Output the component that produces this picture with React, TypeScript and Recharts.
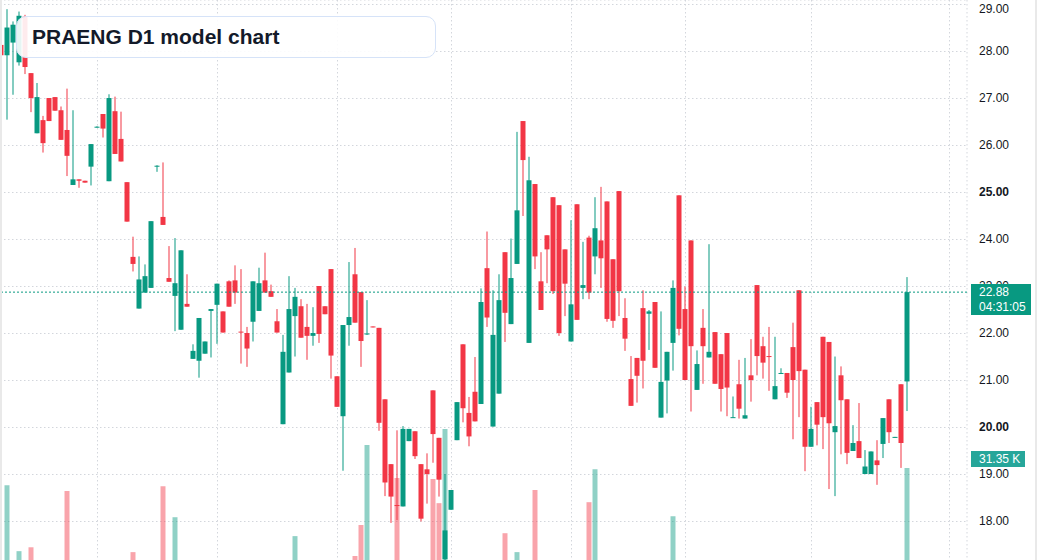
import React from 'react';
import {
  ComposedChart,
  Bar,
  XAxis,
  YAxis,
  CartesianGrid,
  ReferenceLine,
  Cell,
} from 'recharts';

// daily candles, oldest first
const opens = [
  28.14, 27.92, 28.19, 27.77, 28.74, 27.54, 26.26, 26.54, 27.01, 27.03,
  26.75, 26.33, 25.16, 25.28, 25.25, 25.55, 26.39, 26.67, 25.24, 26.73,
  26.14, 25.22, 23.63, 22.53, 22.87, 22.97, 25.56, 24.48, 23.18, 22.8,
  22.08, 22.63, 21.46, 21.42, 21.57, 22.48, 22.61, 22.47, 23.11, 23.13,
  22.04, 22.01, 22.25, 22.48, 23.13, 22.9, 22.26, 20.07, 21.17, 22.37,
  22.58, 22.14, 21.95, 23.01, 22.58, 23.37, 21.09, 20.24, 22.18, 23.26,
  22.88, 21.98, 22.15, 22.12, 20.6, 19.22, 18.35, 18.32, 19.71, 19.92,
  19.22, 19.11, 20.79, 19.78, 17.2, 18.25, 19.73, 21.77, 20.31, 20.76,
  20.5, 23.39, 20.02, 20.72, 23.73, 22.2, 23.48, 26.52, 21.8, 25.18,
  23.11, 24.09, 24.9, 24.73, 23.79, 21.83, 24.75, 22.97, 24.04, 23.64,
  23.98, 24.81, 23.58, 25.03, 22.33, 21.03, 21.48, 22.54, 22.42, 22.67,
  20.21, 21.0, 21.8, 24.94, 22.52, 23.98, 20.8, 22.12, 21.49, 22.03,
  21.56, 22.01, 20.21, 20.92, 20.19, 21.11, 23.03, 21.73, 21.52, 20.6,
  21.14, 21.16, 21.71, 22.92, 21.23, 19.59, 20.54, 21.93, 21.82, 19.9,
  21.11, 20.6, 19.5, 19.71, 19.01, 19.01, 19.3, 19.65, 20.6, 19.78,
  20.92, 20.98,
];
const highs = [
  28.2, 28.9, 28.64, 28.85, 28.78, 27.54, 27.33, 26.63, 27.01, 27.03,
  26.83, 27.21, 26.75, 25.28, 25.25, 26.03, 26.41, 26.67, 27.09, 27.04,
  26.72, 25.22, 24.06, 23.64, 23.47, 24.39, 25.58, 25.64, 23.86, 24.03,
  23.77, 23.26, 21.77, 22.33, 21.83, 22.52, 23.06, 22.47, 23.13, 23.45,
  23.37, 22.14, 23.11, 23.4, 23.72, 23.04, 22.52, 21.97, 23.22, 22.97,
  22.73, 22.63, 22.56, 23.01, 22.58, 23.37, 21.09, 22.18, 23.52, 23.82,
  22.88, 22.71, 22.15, 22.12, 20.6, 19.22, 19.94, 20.03, 19.97, 19.92,
  19.22, 19.45, 20.79, 19.78, 19.01, 18.67, 20.54, 21.77, 20.65, 21.5,
  22.96, 24.17, 22.92, 23.26, 23.73, 24.02, 26.29, 26.52, 25.76, 25.18,
  23.73, 24.09, 24.9, 24.73, 23.79, 24.41, 24.75, 23.95, 24.08, 24.9,
  25.12, 24.81, 23.58, 25.03, 22.75, 21.52, 21.48, 22.92, 22.5, 22.67,
  22.47, 21.61, 23.13, 24.94, 23.0, 23.98, 21.64, 22.52, 23.9, 22.03,
  21.56, 22.01, 20.66, 21.44, 21.48, 21.88, 23.03, 21.93, 22.14, 21.93,
  21.26, 21.16, 22.23, 22.92, 21.23, 20.44, 20.54, 21.93, 21.82, 21.51,
  21.3, 20.6, 20.05, 20.52, 19.52, 19.49, 19.73, 20.2, 20.6, 19.8,
  20.92, 23.2,
];
const lows = [
  27.86, 26.55, 27.08, 27.7, 27.52, 26.71, 26.26, 25.85, 26.52, 26.74,
  26.12, 25.35, 25.16, 25.1, 25.21, 25.15, 26.38, 26.17, 25.24, 25.82,
  25.66, 24.38, 23.32, 22.53, 22.87, 22.97, 25.44, 24.31, 23.1, 22.05,
  22.08, 22.57, 21.46, 21.06, 21.57, 21.49, 21.78, 22.02, 22.57, 22.63,
  21.36, 21.29, 21.83, 22.48, 22.87, 22.78, 22.02, 20.07, 21.17, 21.51,
  21.91, 21.44, 21.74, 21.8, 22.41, 21.04, 20.44, 19.08, 21.74, 22.23,
  21.29, 21.97, 22.13, 19.93, 18.54, 17.97, 18.03, 18.32, 19.71, 19.33,
  18.0, 18.38, 19.25, 18.53, 17.15, 18.25, 19.73, 20.11, 19.6, 20.13,
  20.5, 22.14, 20.02, 20.72, 21.82, 22.2, 23.48, 24.5, 21.8, 23.37,
  22.5, 23.07, 22.84, 21.95, 22.37, 21.83, 22.29, 22.73, 22.73, 23.26,
  22.97, 22.25, 22.12, 22.37, 21.63, 20.46, 20.53, 20.83, 21.65, 21.27,
  20.21, 20.3, 21.21, 21.96, 21.01, 20.34, 20.8, 20.93, 21.49, 20.93,
  20.34, 20.24, 20.21, 20.19, 20.19, 20.55, 21.11, 21.04, 20.78, 20.6,
  21.14, 20.63, 19.75, 20.22, 19.07, 19.59, 19.62, 19.54, 18.69, 18.54,
  19.43, 19.22, 19.5, 19.35, 19.01, 19.01, 18.78, 19.35, 19.67, 19.78,
  19.14, 20.35,
];
const closes = [
  27.92, 28.51, 28.57, 28.76, 27.67, 27.01, 27.03, 26.05, 26.52, 26.74,
  26.12, 25.78, 25.28, 25.25, 25.21, 26.03, 26.4, 26.36, 27.01, 25.82,
  25.66, 24.38, 23.48, 23.15, 23.22, 24.39, 25.57, 24.31, 23.1, 23.07,
  23.77, 22.57, 21.63, 22.33, 21.83, 22.52, 23.06, 22.02, 22.57, 22.87,
  22.03, 21.68, 23.11, 23.07, 22.87, 22.78, 22.02, 21.61, 22.52, 22.78,
  21.91, 21.95, 22.01, 21.99, 22.41, 21.53, 20.44, 22.18, 22.35, 22.23,
  21.84, 22.0, 22.13, 20.1, 18.83, 18.53, 18.33, 19.97, 19.97, 19.39,
  18.06, 19.01, 19.86, 18.89, 17.81, 18.67, 20.54, 20.41, 19.81, 20.13,
  22.67, 22.34, 21.97, 22.71, 22.44, 23.18, 24.62, 25.69, 25.26, 23.64,
  22.5, 23.79, 22.9, 22.01, 23.06, 22.62, 22.29, 23.03, 22.87, 24.24,
  23.6, 22.31, 22.27, 22.9, 21.89, 20.46, 21.1, 21.42, 22.47, 21.27,
  20.97, 21.61, 22.97, 22.1, 21.01, 21.73, 21.35, 21.73, 21.61, 20.93,
  20.82, 20.85, 20.22, 20.4, 20.26, 21.01, 21.52, 21.38, 21.5, 20.88,
  21.16, 20.74, 21.01, 21.2, 19.59, 19.97, 20.06, 20.22, 20.09, 20.03,
  20.58, 19.46, 19.67, 19.35, 19.17, 19.49, 19.2, 20.2, 19.9, 19.8,
  19.67, 22.88,
];
// volume in thousands
const volumesK = [
  9.5, 27.8, 8.2, 14.2, 6.1, 15.0, 7.4, 5.2, 4.8, 3.9,
  6.6, 26.6, 8.9, 3.1, 2.7, 7.8, 1.9, 5.5, 11.2, 9.1,
  6.3, 10.4, 14.0, 8.7, 5.9, 9.8, 2.4, 27.6, 6.2, 21.2,
  10.9, 4.4, 5.1, 9.3, 4.6, 3.8, 7.7, 5.3, 6.8, 4.9,
  7.1, 5.6, 8.3, 6.4, 5.8, 3.2, 4.1, 11.6, 10.2, 17.3,
  6.9, 5.4, 3.6, 8.8, 3.3, 11.9, 7.2, 12.1, 6.0, 13.2,
  19.6, 36.1, 2.2, 11.4, 10.7, 9.6, 29.3, 11.8, 5.0, 6.5,
  9.9, 7.6, 29.1, 24.1, 39.4, 8.1, 9.4, 10.6, 6.7, 7.3,
  11.3, 10.1, 12.0, 11.1, 17.9, 9.7, 14.0, 10.8, 12.2, 26.8,
  7.9, 5.7, 10.5, 11.5, 6.6, 8.4, 11.7, 4.3, 24.3, 31.1,
  8.6, 10.0, 8.5, 11.0, 5.2, 6.3, 4.7, 7.5, 3.4, 7.0,
  8.0, 5.9, 21.4, 11.4, 7.8, 10.3, 4.5, 6.1, 5.6, 6.8,
  5.3, 7.4, 2.9, 4.8, 3.7, 4.2, 8.9, 3.9, 4.6, 5.0,
  2.1, 3.5, 6.2, 9.0, 10.4, 4.4, 5.1, 8.7, 9.5, 6.9,
  5.5, 7.7, 3.6, 4.9, 3.2, 4.0, 3.8, 5.8, 4.7, 1.8,
  8.3, 31.35,
];
const priceTicks = [18, 19, 20, 21, 22, 23, 24, 25, 26, 27, 28, 29];
const boldTicks = [20, 25];
const monthTicks = [16, 36, 56, 75, 95, 114, 135, 158];
const lastPrice = '22.88';
const countdown = '04:31:05';
const lastVolume = '31.35 K';
const title = 'PRAENG D1 model chart';

const UP = '#089981';
const DOWN = '#f23645';
const UP_VOL = 'rgba(8, 153, 129, 0.45)';
const DOWN_VOL = 'rgba(242, 54, 69, 0.45)';
const GRID = '#d3d6dc';
const FONT = '"Liberation Sans", Arial, sans-serif';

const data = opens.map((o, i) => ({
  i,
  open: o,
  high: highs[i],
  low: lows[i],
  close: closes[i],
  volume: volumesK[i],
}));

// eslint-disable-next-line @typescript-eslint/no-explicit-any
const Candle = (props: any) => {
  const { x, y, width, height, payload } = props;
  if (x == null || !payload) return null;
  const { open, close, high, low } = payload;
  const k = height / (high - low);
  const py = (p: number) => y + (high - p) * k;
  const color = close >= open ? UP : DOWN;
  const top = py(Math.max(open, close));
  const bot = py(Math.min(open, close));
  return (
    <g>
      <rect x={x + Math.floor(width / 2)} y={y} width={1} height={height} fill={color} />
      <rect x={x} y={top} width={width} height={Math.max(1, bot - top)} fill={color} />
    </g>
  );
};

// eslint-disable-next-line @typescript-eslint/no-explicit-any
const PriceTick = (props: any) => {
  const { x, y, payload } = props;
  const v = payload.value as number;
  return (
    <text
      x={x + 4}
      y={y}
      dominantBaseline="central"
      fontFamily={FONT}
      fontSize={12}
      fontWeight={boldTicks.includes(v) ? 700 : 400}
      fill="#131722"
    >
      {v.toFixed(2)}
    </text>
  );
};

export default function App() {
  return (
    <div
      style={{
        position: 'relative',
        width: 1037,
        height: 560,
        overflow: 'hidden',
        background: '#fff',
        fontFamily: FONT,
      }}
    >
      <style>{'body{margin:0}'}</style>
      <ComposedChart
        width={1037}
        height={620}
        data={data}
        margin={{ top: 0, right: 0, bottom: 0, left: 0 }}
      >
        <CartesianGrid stroke={GRID} strokeDasharray="1.5 2.5" />
        <XAxis
          type="number"
          dataKey="i"
          domain={[-0.25, 160.9167]}
          ticks={monthTicks}
          allowDataOverflow
          hide
        />
        <XAxis
          xAxisId="vx"
          type="number"
          dataKey="i"
          domain={[-0.25, 160.9167]}
          allowDataOverflow
          hide
        />
        <YAxis
          type="number"
          orientation="right"
          domain={[15.904, 29.0957]}
          allowDataOverflow
          ticks={priceTicks}
          width={70}
          axisLine={false}
          tickLine={false}
          tick={<PriceTick />}
        />
        <YAxis yAxisId="vol" type="number" domain={[0, 127.875]} allowDataOverflow hide />
        <Bar
          xAxisId="vx"
          yAxisId="vol"
          dataKey="volume"
          barSize={5}
          isAnimationActive={false}
        >
          {data.map((d) => (
            <Cell key={d.i} fill={d.close >= d.open ? UP_VOL : DOWN_VOL} />
          ))}
        </Bar>
        <Bar
          dataKey={(d: { low: number; high: number }) => [d.low, d.high]}
          barSize={5}
          shape={<Candle />}
          isAnimationActive={false}
        />
        <ReferenceLine y={Number(lastPrice)} stroke={UP} strokeDasharray="2 2" />
      </ComposedChart>

      <div
        style={{
          position: 'absolute',
          left: 16,
          top: 16,
          width: 420,
          height: 42,
          border: '1.5px solid #d6e3f8',
          borderRadius: 10,
          background: 'rgba(255,255,255,0.9)',
          display: 'flex',
          alignItems: 'center',
          paddingLeft: 15,
          boxSizing: 'border-box',
          fontWeight: 700,
          fontSize: 21,
          color: '#131a2a',
        }}
      >
        {title}
      </div>

      <div
        style={{
          position: 'absolute',
          left: 971,
          top: 284,
          width: 60,
          height: 31,
          background: UP,
          color: '#fff',
          fontSize: 12,
          lineHeight: '15px',
          paddingLeft: 8,
          paddingTop: 1,
          boxSizing: 'border-box',
        }}
      >
        <div>{lastPrice}</div>
        <div>{countdown}</div>
      </div>

      <div
        style={{
          position: 'absolute',
          left: 971,
          top: 451,
          width: 54,
          height: 16,
          background: '#26a69a',
          color: '#fff',
          fontSize: 12,
          lineHeight: '16px',
          paddingLeft: 8,
          boxSizing: 'border-box',
        }}
      >
        {lastVolume}
      </div>

      <div style={{ position: 'absolute', left: 0, top: 0, width: 2, height: 560, background: '#e9e9e9' }} />
      <div style={{ position: 'absolute', right: 0, top: 0, width: 2, height: 560, background: '#e9e9e9' }} />
    </div>
  );
}
